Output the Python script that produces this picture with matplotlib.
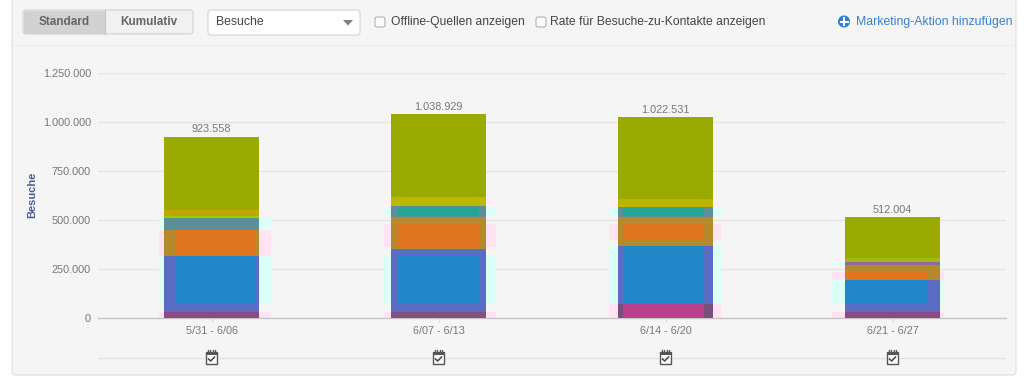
import matplotlib
matplotlib.use('Agg')
import matplotlib.pyplot as plt
from matplotlib.patches import FancyBboxPatch, Rectangle, Circle, Polygon
from matplotlib.ticker import FuncFormatter
import numpy as np

plt.rcParams['font.family'] = ['Liberation Sans', 'DejaVu Sans']

weeks = ['5/31 - 6/06', '6/07 - 6/13', '6/14 - 6/20', '6/21 - 6/27']
purple = [30000, 30000, 69000, 30000]
blue = [285000, 319000, 296500, 162000]
orange = [130000, 167000, 147000, 77000]
teal = [62000, 55000, 54000, 17000]
lime = [12000, 0, 0, 0]
gold = [30000, 44000, 39000, 16000]
olive = [374558, 423929, 417031, 210004]
y_ticks = [0, 250000, 500000, 750000, 1000000, 1250000]

W, H = 1024, 379
series = [purple, blue, orange, teal, lime, gold, olive]
# colours per bar: body of the bar, washed out halo, clean core (None = no such layer)
body_col = [['#8c4a84', '#84507e', '#7a4f7c', '#8c4a84'],
            ['#5a6cc4'] * 4,
            ['#b48a2c'] * 4,
            ['#5c8f98', '#5c8f98', '#5c8f98', '#8f6a9a'],
            ['#8fd400'] * 4,
            ['#c4a400', '#bcb800', '#bcb400', '#a0b810'],
            ['#9aaa00'] * 4]
halo_col = ['#ffe3f3', '#dcfff8', '#ffe3f3', '#dcfff8', None, '#fff0f5', None]
core_col = [[None, None, '#b8408c', None],
            ['#2187c8'] * 4,
            ['#e0761f'] * 4,
            [None, '#22a596', '#22a596', None],
            [None] * 4, [None] * 4, [None] * 4]

# how far the core stays away from the segment ends, px, per bar
inset_low = [[0, 0, 0, 0], [8, 8, 0, 8], [0, 2, 6, 0], [0, 1, 1, 0], [0] * 4, [0] * 4, [0] * 4]
inset_top = [[0, 0, 0, 0], [0, 6, 0, 0], [0, 7, 7, 7], [0, 1, 1, 0], [0] * 4, [0] * 4, [0] * 4]

# the halos and cores sit a little off the bar centre, in px
halo_shift = [3, 1, -1, -4]
core_shift = [4, 0, -2.5, -6]


def px_box(x0, y0, x1, y1, **kw):
    return Rectangle((x0, y0), x1 - x0, y1 - y0, **kw)


fig = plt.figure(figsize=(W / 100, H / 100), dpi=100, facecolor='white')

# page chrome in pixel coordinates
bg = fig.add_axes([0, 0, 1, 1], zorder=0)
bg.set_xlim(0, W)
bg.set_ylim(H, 0)
bg.axis('off')
bg.add_patch(FancyBboxPatch((12, -20), 1004, 395, boxstyle='round,pad=0,rounding_size=4',
                            fc='#f5f5f5', ec='#dedede', lw=0.8))
bg.plot([13, 1015], [44.5, 44.5], color='#ececec', lw=1)

bg.add_patch(FancyBboxPatch((23, 10), 170, 24, boxstyle='round,pad=0,rounding_size=3',
                            fc='#f1f1f1', ec='#cccccc', lw=0.7))
bg.add_patch(px_box(24, 10.5, 105, 33.5, fc='#d2d2d2', ec='none'))
bg.plot([105, 105], [10, 34], color='#c4c4c4', lw=0.8)
bg.text(64, 22, 'Standard', ha='center', va='center', fontsize=8.5, fontweight='bold', color='#666666')
bg.text(149, 22, 'Kumulativ', ha='center', va='center', fontsize=8.5, fontweight='bold', color='#666666')

bg.add_patch(FancyBboxPatch((208, 10), 152, 25, boxstyle='round,pad=0,rounding_size=3',
                            fc='#ffffff', ec='#cfcfcf', lw=0.7))
bg.text(216, 22, 'Besuche', ha='left', va='center', fontsize=8.8, color='#444444')
bg.add_patch(Polygon([[343, 20], [353, 20], [348, 25.5]], fc='#808080', ec='none'))

for cx, tx, label in [(375, 391, 'Offline-Quellen anzeigen'),
                      (536, 550, 'Rate für Besuche-zu-Kontakte anzeigen')]:
    bg.add_patch(FancyBboxPatch((cx, 17), 10, 10, boxstyle='round,pad=0,rounding_size=2',
                                fc='#fbfbfb', ec='#a8a8a8', lw=0.7))
    bg.text(tx, 22, label, ha='left', va='center', fontsize=8.75, color='#444444')

bg.add_patch(Circle((844, 21.5), 6, fc='#2b7fd4', ec='none'))
bg.plot([840.5, 847.5], [21.5, 21.5], color='white', lw=1.5)
bg.plot([844, 844], [18, 25], color='white', lw=1.5)
bg.text(856, 22, 'Marketing-Aktion hinzufügen', ha='left', va='center', fontsize=8.8, color='#3a7fd0')

# chart
y0_px, y1_px = 317.5, 73
x0_px, x1_px = 98, 1006
ax = fig.add_axes([x0_px / W, 1 - y0_px / H, (x1_px - x0_px) / W, (y0_px - y1_px) / H], zorder=1)
ax.patch.set_alpha(0)
ax.set_xlim(-0.5, 3.5)
ax.set_ylim(0, y_ticks[-1])
px = (x1_px - x0_px) / 4.0  # px per category
unit = y_ticks[-1] / (y0_px - y1_px)  # value per px

ax.set_yticks(y_ticks)
ax.yaxis.set_major_formatter(FuncFormatter(lambda v, pos: f'{int(v):,}'.replace(',', '.')))
ax.set_xticks(range(len(weeks)))
ax.set_xticklabels(weeks)
ax.tick_params(axis='y', length=0, pad=5, labelsize=7.8, labelcolor='#777777')
ax.tick_params(axis='x', length=3, width=0.8, color='#f0d0e0', pad=3, labelsize=7.8, labelcolor='#777777')
ax.grid(axis='y', color='#e4e4e4', lw=1)
ax.set_axisbelow(True)
for s in ['top', 'left', 'right']:
    ax.spines[s].set_visible(False)
ax.spines['bottom'].set_color('#c6c6c6')
ax.spines['bottom'].set_linewidth(1)

x = np.arange(len(weeks))
bar_w = 95 / px
bottom = np.zeros(len(weeks))
for i, vals in enumerate(series):
    vals = np.array(vals, dtype=float)
    low = bottom + np.array(inset_low[i]) * unit
    high = bottom + vals - np.array(inset_top[i]) * unit
    ax.bar(x, vals, bar_w, bottom=bottom, color=body_col[i], zorder=3, lw=0)
    for j in x:
        if vals[j] == 0:
            continue
        if halo_col[i]:
            ax.bar(j + halo_shift[j] / px, high[j] - low[j], bar_w + 17 / px, bottom=low[j],
                   color=halo_col[i], zorder=2, lw=0)
        if core_col[i][j]:
            ax.bar(j + core_shift[j] / px, high[j] - low[j], bar_w - 14 / px, bottom=low[j],
                   color=core_col[i][j], zorder=4, lw=0)
    bottom = bottom + vals

for xi, b in zip(x, bottom):
    ax.annotate(f'{int(b):,}'.replace(',', '.'), (xi, b), xytext=(0, 2), textcoords='offset points',
                ha='center', va='bottom', fontsize=7.8, color='#777777')

fig.text(32 / W, 1 - 195 / H, 'Besuche', rotation=90, ha='center', va='center',
         fontsize=8, fontweight='bold', color='#4c5c9c')

# lower rule with the marketing action icons
bg.plot([98, 1005], [357.5, 357.5], color='#e2e2e2', lw=1)
for xi in x:
    cx = x0_px + (xi + 0.5) * px
    bg.add_patch(px_box(cx - 7, 349, cx + 7, 366, fc='#f5f5f5', ec='none', zorder=3))
    bg.add_patch(px_box(cx - 5.5, 352, cx + 5.5, 364, fc='#fbfbfb', ec='#555555', lw=1.0, zorder=4))
    bg.add_patch(px_box(cx - 5.5, 352, cx + 5.5, 355, fc='#555555', ec='none', zorder=4))
    for dx in (-3.5, -1.2, 1.2, 3.5):
        bg.plot([cx + dx, cx + dx], [350, 352.5], color='#555555', lw=0.9, zorder=5)
    bg.plot([cx - 3, cx - 0.8, cx + 3], [359, 361, 357], color='#444444', lw=1.1, zorder=5)

fig.savefig('out.png', dpi=100)
